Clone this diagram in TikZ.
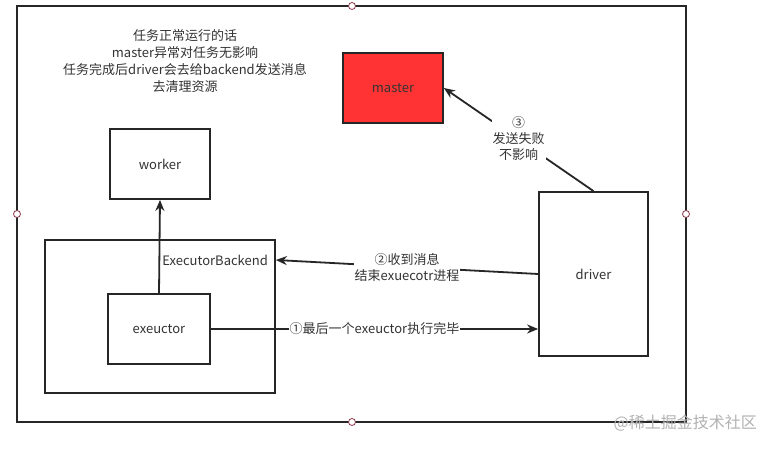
\documentclass[tikz,border=0pt]{standalone}
\usepackage{fontspec}
\setmainfont{Noto Sans CJK SC}
\usetikzlibrary{arrows.meta}
\definecolor{ln}{HTML}{262626}
\definecolor{tx}{HTML}{333333}
\definecolor{mred}{HTML}{FF3333}
\definecolor{hdl}{HTML}{8B3A4A}
\tikzset{
  box/.style={draw=ln, line width=1.8pt, minimum width=100pt, minimum height=70pt, inner sep=0pt, text=tx, font=\fontsize{13}{15}\selectfont},
  conn/.style={draw=ln, line width=1.8pt, -{Stealth[length=11pt,width=9pt]}},
  lbl/.style={fill=white, text=tx, font=\fontsize{13}{16}\selectfont, align=center, inner sep=1pt},
  handle/.style={circle, draw=hdl, fill=white, line width=0.8pt, minimum size=7pt, inner sep=0pt},
}
\begin{document}
\begin{tikzpicture}[x=1pt,y=-1pt]
\useasboundingbox (0,0) rectangle (771,449);
\fill[white] (0,0) rectangle (771,449);
% outer frame
\draw[ln, line width=1.8pt] (17,6) rectangle (686,422);
\node[handle] (h1) at (352,6) {};
\node[handle] (h2) at (17,214) {};
\node[handle] (h3) at (686,214) {};
\node[handle] (h4) at (352,422) {};
% top text
\node[lbl, fill=none, font=\fontsize{13}{16.7}\selectfont] (note) at (185,61) {任务正常运行的话\\master异常对任务无影响\\任务完成后driver会去给backend发送消息\\去清理资源};
% boxes
\node[box, fill=mred] (master) at (393,88) {master};
\node[box] (worker) at (160,164) {worker};
\node[box, minimum width=230pt, minimum height=153pt] (backend) at (160,316.5) {};
\node[text=tx, font=\fontsize{13}{15}\selectfont, anchor=east, inner sep=0pt] (bl) at (268,260) {ExecutorBackend};
\node[box, minimum width=102pt] (exec) at (159,329) {exeuctor};
\node[box, minimum width=109pt, minimum height=164pt] (driver) at (593.5,274) {driver};
% connectors
\draw[conn] (exec.north) -- (worker.south);
\draw[conn] (exec.east) -- node[lbl] {①最后一个exeuctor执行完毕} (exec.east -| driver.west);
\coordinate (d2) at (driver.west |- 0,274);
\draw[conn] (d2) -- node[lbl, pos=0.5] {②收到消息\\结束exuecotr进程} (backend.east |- 0,260);
\draw[conn] (driver.north) -- node[lbl, pos=0.5, yshift=1pt] {③\\发送失败\\不影响} (master.east);
% watermark
\node[text=black!30, font=\fontsize{16}{18}\selectfont, anchor=east, inner sep=0pt] (wm) at (757,423) {@稀土掘金技术社区};
\end{tikzpicture}
\end{document}
